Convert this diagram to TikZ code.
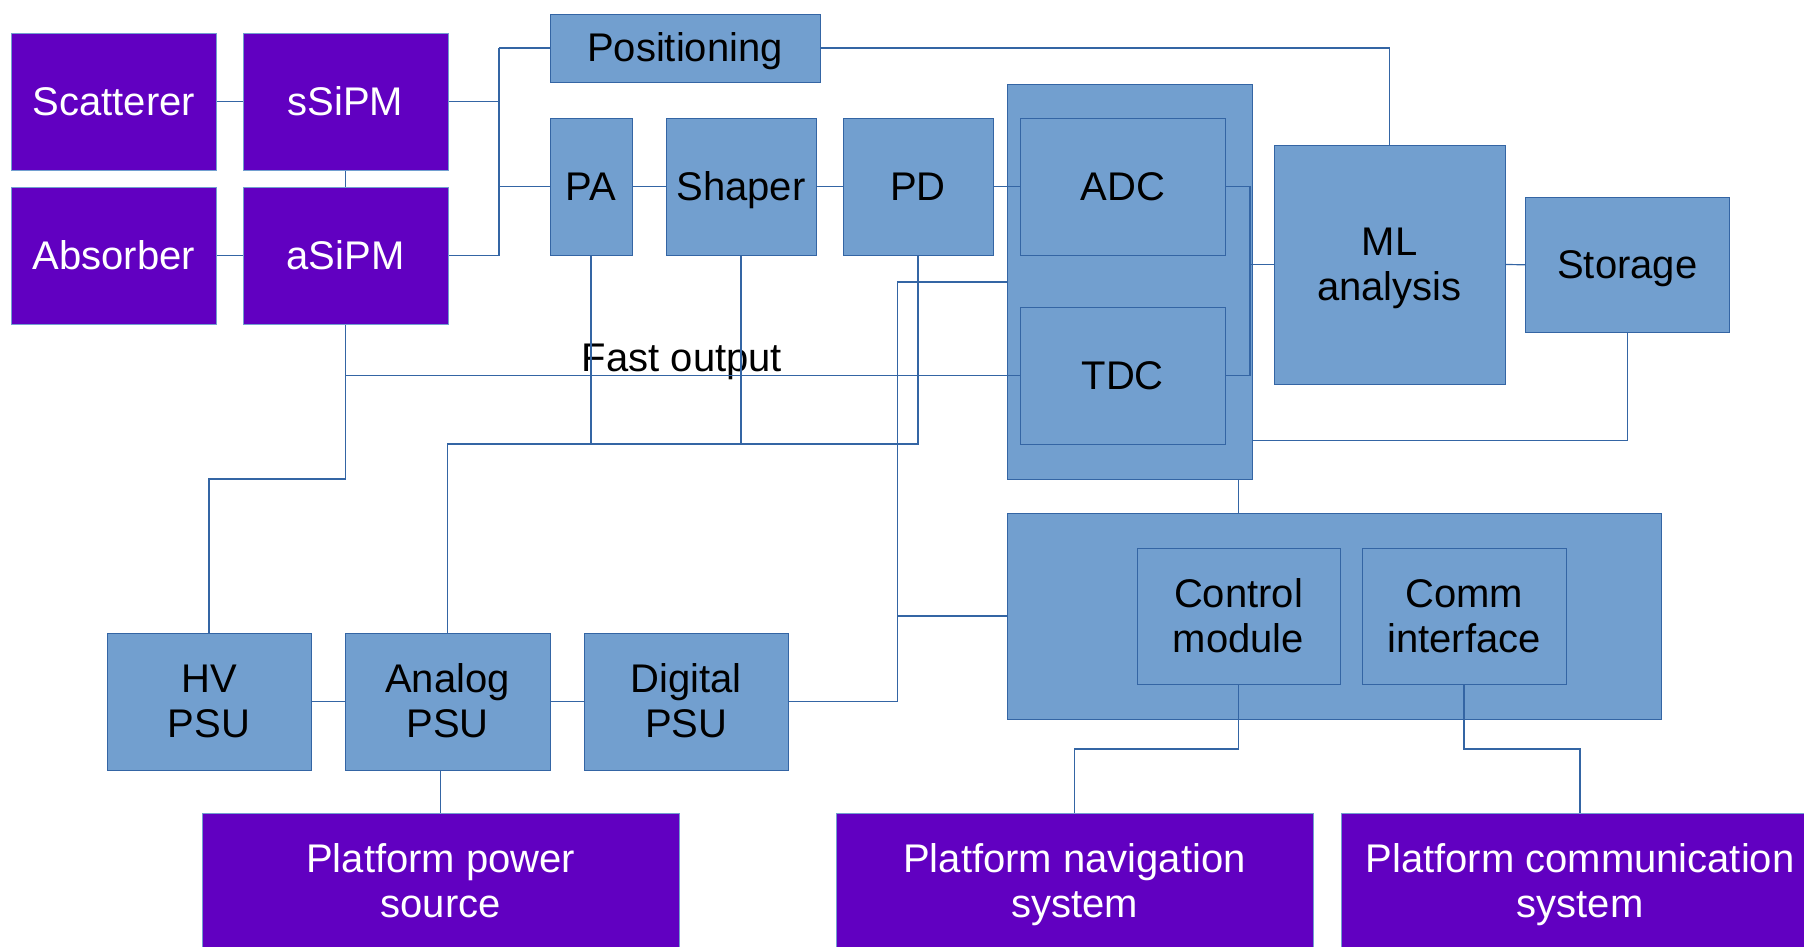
\documentclass[tikz,border=0pt]{standalone}
\usepackage{fontspec}
\setmainfont{Liberation Sans}
\definecolor{pur}{HTML}{6100C1}
\definecolor{lblue}{HTML}{729FCF}
\definecolor{dblue}{HTML}{3465A4}
\newcommand{\fs}{\rule[-8.5pt]{0pt}{44.7pt}}
\begin{document}
\begin{tikzpicture}[x=1pt,y=-1pt,
  every node/.style={font=\fontsize{40}{45}\selectfont, align=center, inner sep=0pt},
  pbox/.style={rectangle, fill=pur, draw=lblue, line width=1pt, text=white},
  bbox/.style={rectangle, fill=lblue, draw=dblue, line width=1pt, text=black},
  wire/.style={draw=dblue, line width=1.2pt}]
\useasboundingbox (0,0) rectangle (1804,946);
\clip (0,0) rectangle (1804,946);
% containers
\node[bbox, minimum width=245.5pt, minimum height=395pt] (c1) at (1129.75,281.5) {};
\node[bbox, minimum width=654pt, minimum height=206pt] (c2) at (1334,616) {};
% purple blocks
\node[pbox, minimum width=204.5pt, minimum height=137pt] (sc) at (113.75,101.5) {\fs Scatterer};
\node[pbox, minimum width=205pt, minimum height=137pt] (ss) at (345.5,101.5) {\fs sSiPM};
\node[pbox, minimum width=204.5pt, minimum height=137pt] (ab) at (113.75,255.75) {\fs Absorber};
\node[pbox, minimum width=205pt, minimum height=137pt] (as) at (345.5,255.75) {\fs aSiPM};
\node[pbox, minimum width=476.5pt, minimum height=136pt] (pp) at (440.75,881) {\fs Platform power\\\fs source};
\node[pbox, minimum width=477pt, minimum height=136pt] (pn) at (1074.5,881) {\fs Platform navigation\\\fs system};
\node[pbox, minimum width=477pt, minimum height=136pt] (pc) at (1580,881) {\fs Platform communication\\\fs system};
% blue blocks
\node[bbox, minimum width=270pt, minimum height=68pt] (pos) at (685,48) {\fs Positioning};
\node[bbox, minimum width=82pt, minimum height=137pt] (pa) at (591,186.75) {\fs PA};
\node[bbox, minimum width=150pt, minimum height=137pt] (sh) at (741,186.75) {\fs Shaper};
\node[bbox, minimum width=150pt, minimum height=137pt] (pd) at (918,186.75) {\fs PD};
\node[bbox, minimum width=204.5pt, minimum height=137pt] (adc) at (1122.75,186.75) {\fs ADC};
\node[bbox, minimum width=204.5pt, minimum height=137pt] (tdc) at (1122.75,375.5) {\fs TDC};
\node[bbox, minimum width=231pt, minimum height=239pt] (ml) at (1389.5,264.5) {\fs ML\\\fs analysis};
\node[bbox, minimum width=203.5pt, minimum height=135.5pt] (st) at (1627.25,264.75) {\fs Storage};
\node[bbox, minimum width=203pt, minimum height=136.5pt] (cm) at (1238.5,616.25) {\fs Control\\\fs module};
\node[bbox, minimum width=204pt, minimum height=136.5pt] (ci) at (1464,616.25) {\fs Comm\\\fs interface};
\node[bbox, minimum width=204pt, minimum height=137pt] (hv) at (209,701.5) {\fs HV\\\fs PSU};
\node[bbox, minimum width=205pt, minimum height=137pt] (ap) at (447.5,701.5) {\fs Analog\\\fs PSU};
\node[bbox, minimum width=203.5pt, minimum height=137pt] (dp) at (686.25,701.5) {\fs Digital\\\fs PSU};
\node (fo) at (682,358) {\fs Fast output};
% junction coordinates
\coordinate (j1) at (499,101.5);
\coordinate (j2) at (499,255.75);
\coordinate (j3) at (499,48);
\coordinate (j4) at (499,186.75);
\coordinate (k1) at (1250,186.75);
\coordinate (k2) at (1250,375.5);
\coordinate (k3) at (1250,264.5);
\coordinate (f1) at (345.5,375.5);
\coordinate (f2) at (345.5,479);
\coordinate (f3) at (209,479);
\coordinate (g1) at (447.5,444);
\coordinate (g2) at (918,444);
\coordinate (d1) at (897.5,701.5);
\coordinate (d2) at (897.5,282);
\coordinate (d3) at (897.5,616);
\coordinate (s1) at (1627.25,440.5);
\coordinate (s2) at (1252.5,440.5);
\coordinate (p1) at (1389.5,48);
\coordinate (n1) at (1238.5,749);
\coordinate (n2) at (1074.5,749);
\coordinate (m1) at (1464,749);
\coordinate (m2) at (1580,749);
% wires
\draw[wire] (sc.east) -- (ss.west);
\draw[wire] (ab.east) -- (as.west);
\draw[wire] (ss.south) -- (as.north);
\draw[wire] (ss.east) -- (j1);
\draw[wire] (as.east) -- (j2);
\draw[wire] (j3) -- (j2);
\draw[wire] (j3) -- (pos.west);
\draw[wire] (j4) -- (pa.west);
\draw[wire] (pa.east) -- (sh.west);
\draw[wire] (sh.east) -- (pd.west);
\draw[wire] (pd.east) -- (adc.west);
\draw[wire] (adc.east) -- (k1) -- (k2) -- (tdc.east);
\draw[wire] (k3) -- (ml.west);
\draw[wire] (ml.east) -- (st.west);
\draw[wire] (pos.east) -- (p1) -- (ml.north);
\draw[wire] (st.south) -- (s1) -- (s2);
\draw[wire] (as.south) -- (f1) -- (tdc.west);
\draw[wire] (f1) -- (f2) -- (f3) -- (hv.north);
\draw[wire] (pa.south) -- (pa.south |- g1);
\draw[wire] (sh.south) -- (sh.south |- g1);
\draw[wire] (pd.south) -- (g2) -- (g1) -- (ap.north);
\draw[wire] (dp.east) -- (d1) -- (d2) -- (d2 -| c1.west);
\draw[wire] (d3) -- (c2.west);
\draw[wire] (c1.south -| cm.north) -- (c2.north -| cm.north);
\draw[wire] (cm.south) -- (n1) -- (n2) -- (pn.north);
\draw[wire] (ci.south) -- (m1) -- (m2) -- (pc.north);
\draw[wire] (hv.east) -- (ap.west);
\draw[wire] (ap.east) -- (dp.west);
\draw[wire] (ap.south -| pp.north) -- (pp.north);
\end{tikzpicture}
\end{document}
